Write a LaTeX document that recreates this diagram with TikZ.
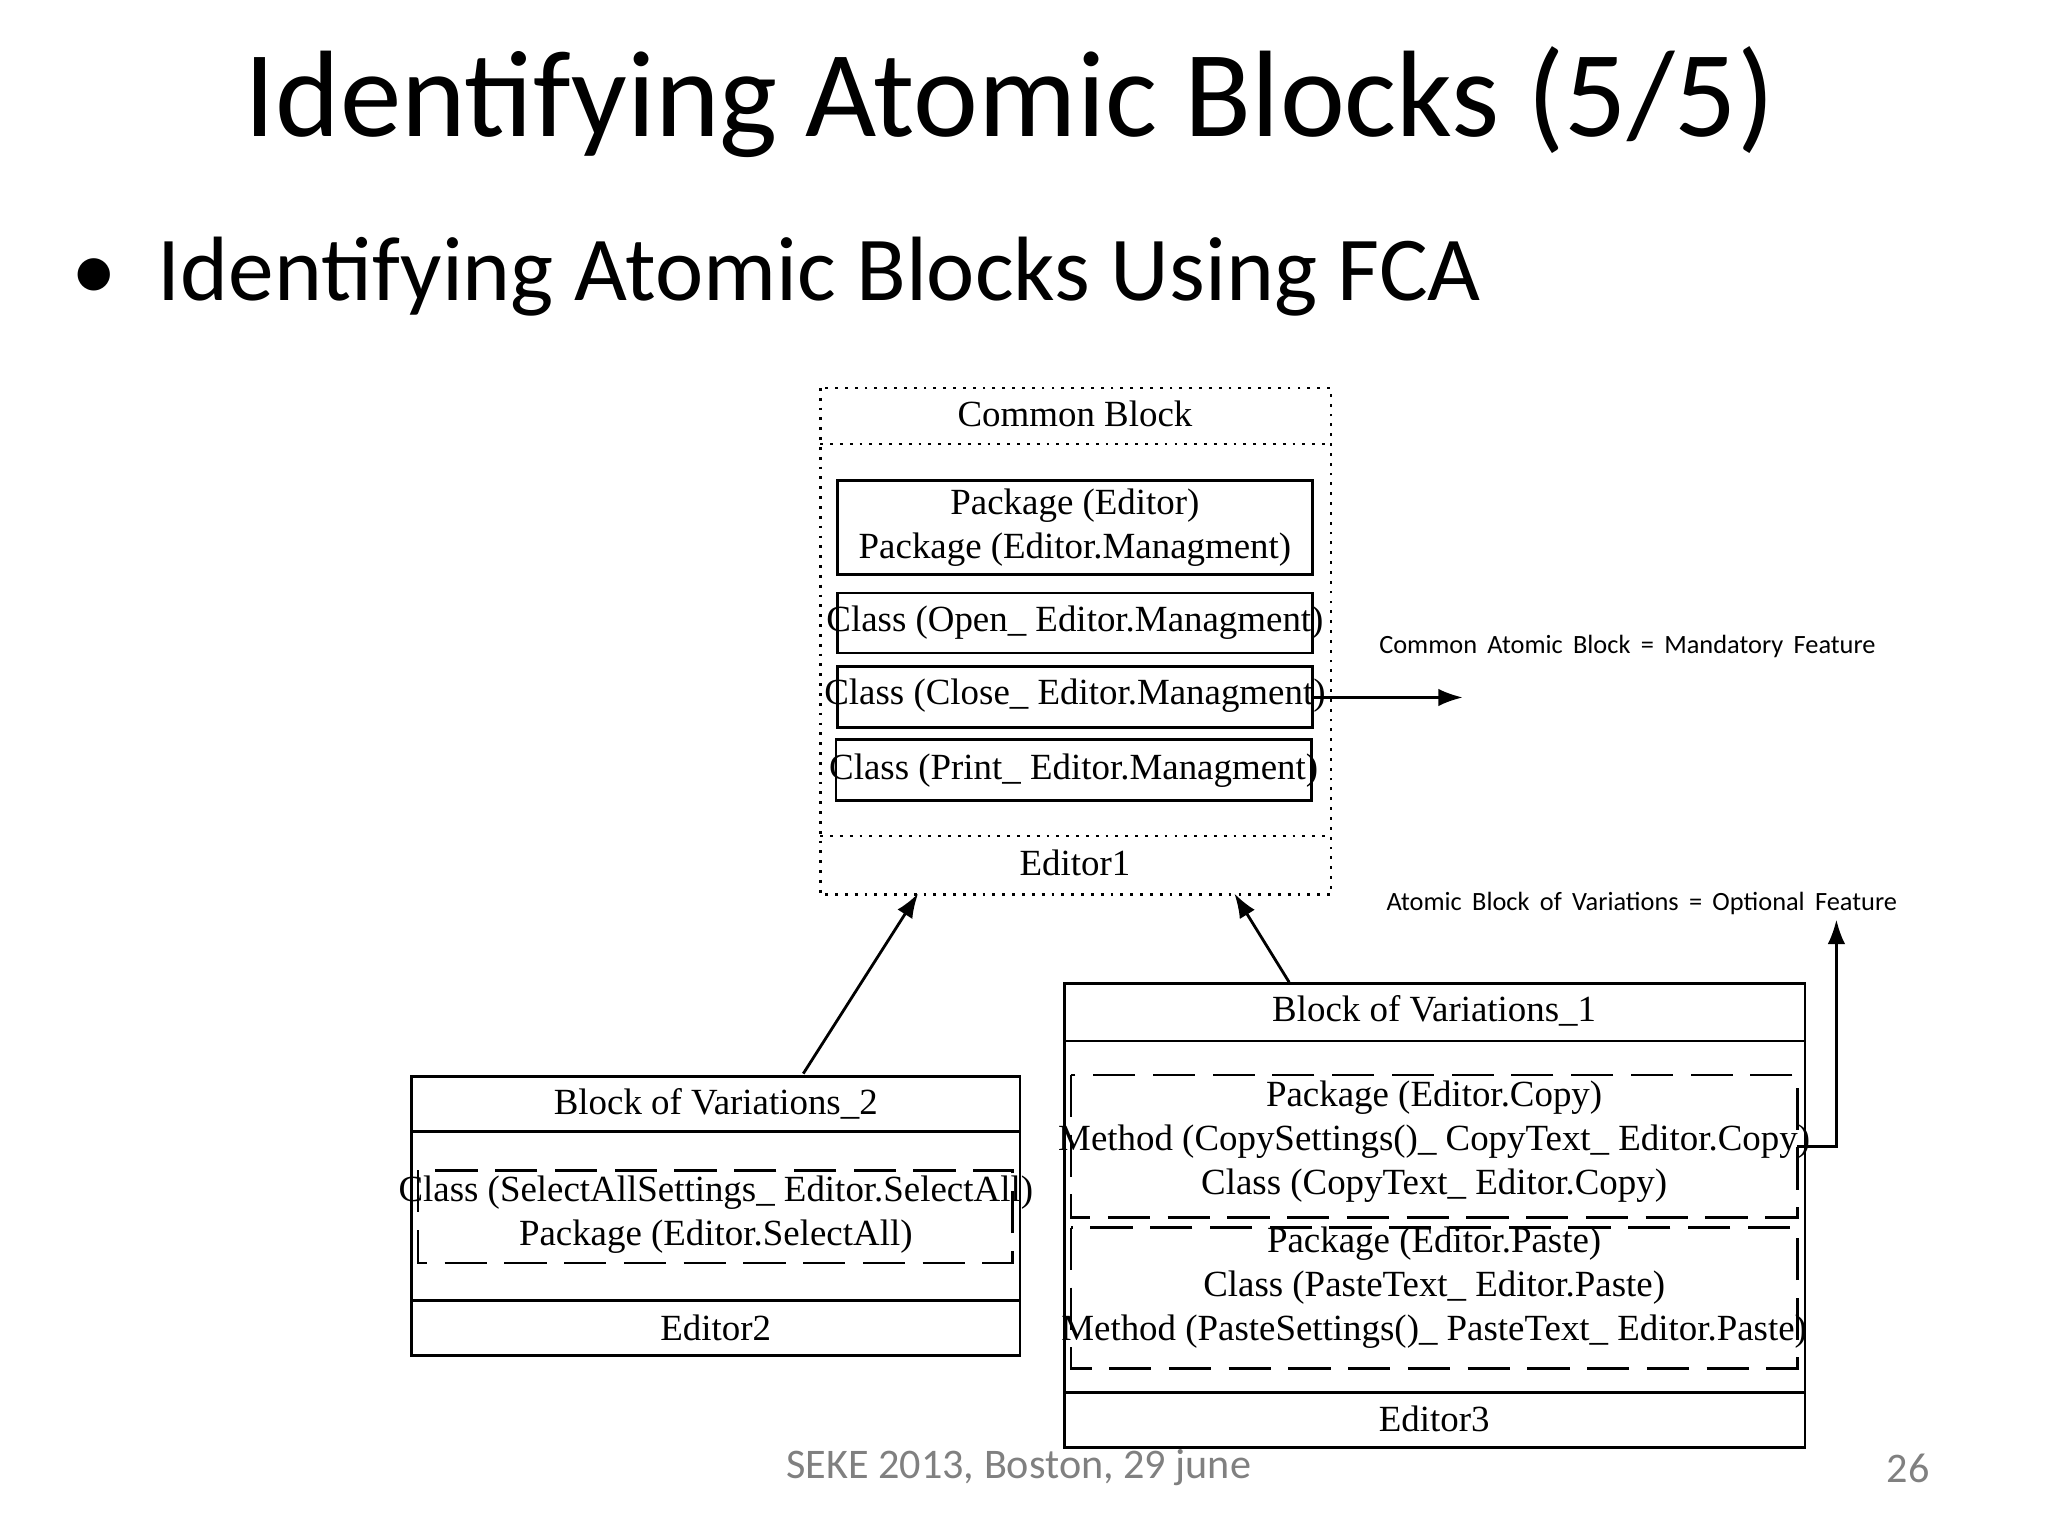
\documentclass[tikz,border=0pt]{standalone}
\usepackage{fontspec}
\setmainfont{Liberation Serif}
\newfontfamily\calfont{Carlito}
\usetikzlibrary{arrows.meta}
\begin{document}
\begin{tikzpicture}[x=0.01306cm,y=-0.01306cm,
 box/.style={draw,thick,inner sep=0pt},
 t/.style={font=\fontsize{10.5}{12.5}\selectfont,align=center,inner sep=0pt},
 lab/.style={font=\calfont\fontsize{7.5}{9}\selectfont,inner sep=0pt},
 arr/.style={-{Latex[length=7pt,width=5pt]},thick}]
\useasboundingbox (0,0) rectangle (1568,1176);
\node[font=\calfont\fontsize{35}{40}\selectfont] (title) at (773,78) {Identifying Atomic Blocks (5/5)};
\node[font=\calfont\fontsize{26}{30}\selectfont,anchor=west] (bul) at (45,212) {\textbullet\hspace{0.45em}Identifying Atomic Blocks Using FCA};
% Editor1
\draw[dotted,thick] (628,297) rectangle (1019,685);
\draw[dotted,thick] (628,340) -- (1019,340);
\draw[dotted,thick] (628,640) -- (1019,640);
\node[t] (cb) at (823,317) {Common Block};
\node[t] (e1) at (823,661) {Editor1};
\coordinate (e1l) at (703,684); \coordinate (e1r) at (945,684);
\draw[box] (641,368) rectangle (1005,440);
\node[t] (p1) at (823,404) {Package (Editor)\\Package (Editor.Managment)};
\draw[box] (641,454) rectangle (1005,500);
\node[t] (c1) at (823,477) {Class (Open\_ Editor.Managment)};
\draw[box] (641,510) rectangle (1005,557);
\node[t] (c2) at (823,533) {Class (Close\_ Editor.Managment)};
\coordinate (c2r) at (1005,534);
\draw[box] (640,566) rectangle (1004,613);
\node[t] (c3) at (822,590) {Class (Print\_ Editor.Managment)};
\coordinate (ma) at (1120,534);
\draw[arr] (c2r) -- (ma);
\node[lab] (ml) at (1246,495) {Common\, Atomic\, Block\, =\, Mandatory\, Feature};
% Editor2
\draw[box] (315,824) rectangle (781,1038);
\draw[thick] (315,866) -- (781,866); \draw[thick] (315,996) -- (781,996);
\node[t] (b2) at (548,845) {Block of Variations\_2};
\draw[thick,dash pattern=on 12pt off 5pt] (320,896) rectangle (775,967);
\node[t] (s2) at (548,930) {Class (SelectAllSettings\_ Editor.SelectAll)\\Package (Editor.SelectAll)};
\node[t] (e2) at (548,1017) {Editor2};
\coordinate (b2t) at (615,822);
% Editor3
\draw[box] (815,753) rectangle (1382,1108);
\draw[thick] (815,797) -- (1382,797); \draw[thick] (815,1066) -- (1382,1066);
\node[t] (b1) at (1098,774) {Block of Variations\_1};
\draw[thick,dash pattern=on 12pt off 5pt] (820,823) rectangle (1376,932);
\node[t] (cp) at (1098,874) {Package (Editor.Copy)\\Method (CopySettings()\_ CopyText\_ Editor.Copy)\\Class (CopyText\_ Editor.Copy)};
\draw[thick,dash pattern=on 12pt off 5pt] (820,940) rectangle (1376,1048);
\node[t] (ps) at (1098,986) {Package (Editor.Paste)\\Class (PasteText\_ Editor.Paste)\\Method (PasteSettings()\_ PasteText\_ Editor.Paste)};
\node[t] (e3) at (1098,1086) {Editor3};
\coordinate (b1t) at (987,752);
\coordinate (cpr) at (1376,878); \coordinate (oa) at (1406,704);
\draw[arr] (cpr) -| (oa);
\node[lab] (ol) at (1257,692) {Atomic\, Block\, of\, Variations\, =\, Optional\, Feature};
\draw[arr] (b2t) -- (e1l);
\draw[arr] (b1t) -- (e1r);
% footer
\node[font=\calfont\fontsize{12}{14}\selectfont,text=gray] (f1) at (780,1124) {SEKE 2013, Boston, 29 june};
\node[font=\calfont\fontsize{12}{14}\selectfont,text=gray] (f2) at (1461,1124) {26};
\end{tikzpicture}
\end{document}
